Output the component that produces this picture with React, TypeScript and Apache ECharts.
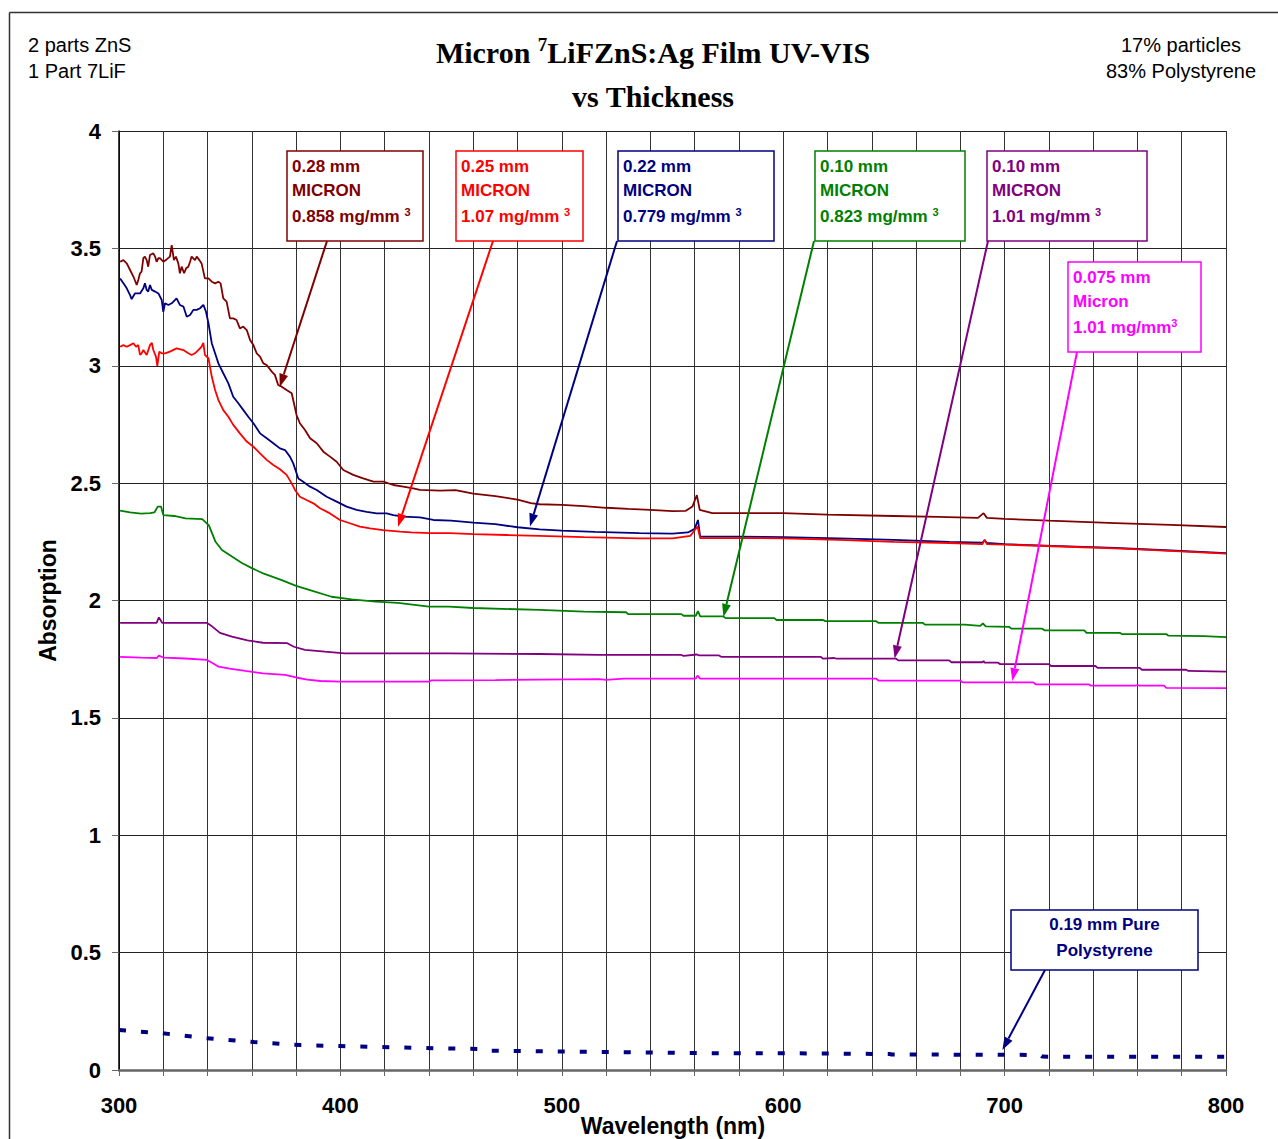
import React, { useEffect, useRef } from 'react';
import * as echarts from 'echarts';

// ---------- data (wavelength nm, absorption) ----------
const s028: [number, number][] = [
  [300.5,3.443],[302,3.45],[303.5,3.436],[305,3.408],[306.5,3.38],[308,3.344],[308.7,3.365],[309.5,3.394],[310.2,3.401],[311,3.458],[311.7,3.465],[312.5,3.45],[313.2,3.422],[314,3.472],[315.5,3.479],[316.3,3.465],[317,3.443],[317.8,3.458],[318.5,3.458],[320,3.443],[321.5,3.453],[323,3.465],[323.8,3.514],[324.8,3.45],[325.7,3.465],[326.8,3.436],[327.5,3.394],[328.3,3.422],[329.4,3.394],[330.3,3.415],[331.3,3.422],[332.1,3.443],[332.8,3.465],[334.3,3.45],[335.1,3.465],[336.3,3.45],[337.3,3.436],[338.8,3.372],[340.4,3.372],[341.9,3.358],[343.4,3.351],[344.9,3.358],[345.9,3.351],[347.1,3.287],[348.6,3.273],[350.1,3.202],[351.6,3.202],[353.1,3.195],[354.6,3.159],[356.1,3.167],[357.7,3.152],[359.2,3.11],[360.7,3.088],[362.2,3.053],[363.7,3.039],[365.2,3.01],[366.7,3.003],[369,2.975],[370.4,2.961],[371.9,2.918],[373.5,2.911],[375.7,2.897],[378,2.883],[380.2,2.79],[381.7,2.755],[384,2.726],[386.3,2.691],[389.3,2.67],[392.3,2.634],[395.3,2.613],[398.3,2.591],[401.3,2.556],[405.8,2.535],[410.3,2.52],[414.9,2.506],[419.4,2.506],[423.9,2.492],[428.4,2.485],[432.9,2.478],[435.9,2.471],
  [445,2.468],[452,2.47],[460,2.455],[470,2.445],[480,2.43],[486,2.415],[490,2.41],[500,2.407],[510,2.402],[520,2.395],[530,2.39],[540,2.386],[550,2.381],[556,2.382],[559,2.4],[561,2.449],[562.3,2.386],[568,2.372],[580,2.372],[600,2.372],[620,2.366],[650,2.36],[670,2.356],[688,2.352],[690.5,2.372],[692,2.352],[700,2.348],[720,2.34],[750,2.33],[775,2.322],[800,2.313]
];
const s025: [number, number][] = [
  [300.5,3.081],[302,3.088],[303.5,3.081],[305,3.088],[306.5,3.096],[307.7,3.081],[308.7,3.088],[309.5,3.046],[310.2,3.053],[311,3.067],[312.5,3.046],[314,3.088],[314.8,3.098],[315.5,3.067],[316.7,3.039],[317.3,2.999],[318.2,3.06],[319.3,3.053],[320.8,3.053],[323,3.06],[326,3.074],[329.1,3.067],[331.3,3.053],[332.8,3.046],[334.3,3.053],[335.8,3.067],[337.3,3.081],[338.1,3.098],[338.8,3.046],[340.4,3.032],[341.9,2.954],[343.4,2.897],[344.9,2.854],[347.1,2.811],[349.4,2.783],[351.6,2.748],[354.6,2.712],[357.7,2.677],[360.7,2.655],[363.7,2.627],[366.7,2.599],[369.7,2.577],[372.7,2.559],[375.7,2.535],[378,2.499],[379.5,2.471],[381.7,2.442],[384.7,2.428],[387.8,2.414],[390.8,2.393],[395.3,2.371],[399.8,2.343],[404.3,2.329],[408.8,2.315],[413.4,2.307],[419.2,2.3],[426.9,2.293],[432,2.29],[440.4,2.287],[449.5,2.287],[460,2.283],[475,2.279],[490,2.275],[510,2.27],[535,2.265],[550,2.265],[558,2.275],[561.3,2.315],[562.5,2.266],[580,2.266],[600,2.265],[625,2.258],[650,2.25],[675,2.245],[690,2.24],[691,2.258],[692,2.24],[700,2.238],[725,2.23],[750,2.222],[775,2.211],[800,2.2]
];
const s022: [number, number][] = [
  [300.5,3.372],[302,3.351],[303.5,3.33],[305,3.301],[305.7,3.284],[307.2,3.308],[309.5,3.308],[311,3.33],[311.7,3.351],[312.5,3.323],[313.2,3.316],[314,3.344],[314.8,3.323],[316.3,3.316],[317.8,3.308],[319.3,3.28],[320,3.23],[320.8,3.266],[322.3,3.259],[323.8,3.266],[326,3.287],[327.5,3.259],[329.1,3.252],[330.6,3.209],[332.1,3.216],[333.6,3.238],[335.1,3.238],[336.6,3.245],[338.1,3.259],[339.3,3.23],[340.4,3.181],[341.9,3.096],[343.4,3.053],[344.9,3.01],[347.1,2.968],[349.4,2.925],[351.6,2.868],[353.9,2.84],[356.1,2.812],[358.4,2.783],[360.7,2.755],[363.7,2.712],[366.7,2.691],[369.7,2.67],[372.7,2.648],[375,2.641],[377.2,2.613],[378.7,2.584],[381,2.52],[383.2,2.506],[386.3,2.485],[389.3,2.471],[393.8,2.442],[398.3,2.421],[402.8,2.4],[407.3,2.386],[411.9,2.378],[416.4,2.371],[420.9,2.371],[423.9,2.364],[428.4,2.357],[435.9,2.354],[442,2.343],[450,2.34],[460,2.332],[470,2.325],[480,2.312],[490,2.303],[500,2.298],[515,2.292],[535,2.287],[550,2.285],[557,2.29],[560,2.305],[561.5,2.343],[562.5,2.272],[580,2.272],[600,2.27],[625,2.265],[650,2.258],[675,2.25],[690,2.246],[691,2.258],[692,2.245],[700,2.24],[725,2.232],[750,2.224],[775,2.213],[800,2.202]
];
const s010a: [number, number][] = [
  [300.5,2.383],[305,2.375],[310,2.37],[314,2.372],[316,2.375],[317.5,2.4],[319,2.4],[320,2.364],[325,2.36],[330,2.35],[337.6,2.347],[340.6,2.32],[343.6,2.25],[346.5,2.215],[351,2.187],[355.5,2.16],[360,2.138],[364.5,2.118],[373.5,2.087],[380,2.062],[387,2.042],[396,2.016],[405,2.005],[416,1.995],[426,1.99],[440,1.974],[449,1.974],[460,1.968],[490,1.96],[510,1.953],[529,1.95],[530,1.942],[554,1.942],[555,1.935],[560.5,1.935],[561.5,1.955],[562.5,1.932],[573,1.932],[574,1.925],[596,1.925],[597,1.917],[618,1.917],[619,1.912],[642,1.912],[643,1.905],[663,1.905],[664,1.897],[682,1.897],[689,1.892],[690.2,1.902],[691.5,1.89],[702,1.888],[703,1.88],[717,1.88],[718,1.873],[736,1.873],[737,1.862],[752,1.862],[753,1.857],[773,1.857],[774,1.85],[790,1.848],[800,1.844]
];
const s010b: [number, number][] = [
  [300.5,1.905],[317,1.905],[318,1.928],[319.5,1.905],[339.6,1.905],[342,1.89],[345.6,1.862],[351,1.846],[358,1.83],[365,1.82],[376,1.818],[379,1.803],[384,1.79],[393,1.782],[402,1.775],[449,1.775],[490,1.772],[517,1.768],[540,1.768],[554,1.768],[555,1.764],[561,1.77],[562,1.766],[571,1.766],[572,1.76],[617,1.76],[618,1.752],[623,1.755],[624,1.752],[651,1.752],[652,1.745],[675,1.745],[676,1.737],[690,1.737],[690.5,1.742],[691,1.735],[697,1.735],[698,1.729],[720,1.729],[721,1.721],[741,1.721],[742,1.713],[761,1.713],[762,1.705],[782,1.705],[783,1.7],[800,1.697]
];
const s0075: [number, number][] = [
  [300.5,1.76],[310,1.757],[317,1.755],[318,1.765],[320,1.757],[330,1.753],[339.6,1.747],[342,1.735],[345,1.718],[350,1.71],[357,1.7],[365,1.69],[375,1.683],[380,1.672],[385,1.663],[391,1.657],[400,1.654],[440,1.654],[441,1.66],[470,1.661],[517,1.665],[520,1.662],[528,1.667],[560.5,1.667],[561.3,1.68],[562.5,1.667],[642,1.667],[643,1.659],[680,1.659],[681,1.651],[713,1.651],[714,1.643],[738,1.643],[739,1.637],[759,1.637],[760,1.64],[761,1.637],[772,1.637],[773,1.628],[800,1.627]
];
const sPS: [number, number][] = [
  [300,0.17],[318,0.158],[339,0.136],[361,0.119],[382,0.106],[400,0.102],[436,0.094],[466,0.089],[467,0.082],[517,0.077],[562,0.072],[607,0.071],[648,0.068],[649,0.066],[698,0.065],[716,0.064],[717,0.057],[800,0.056]
];

const xMin = 300, xMax = 800, xStep = 20;
const yMin = 0, yMax = 4, yStep = 0.5;
const xName = 'Wavelength (nm)';
const yName = 'Absorption';

// annotation boxes: text lines, superscript, colour, box (px), arrow start (px), arrow tip (data)
const notes = [
  { lines: ['0.28 mm', 'MICRON', '0.858 mg/mm '], sup: '3', color: '#800000', box: [287, 151, 136, 90], from: [327, 241], tip: [372.6, 2.91] },
  { lines: ['0.25 mm', 'MICRON', '1.07 mg/mm '], sup: '3', color: '#FF0000', box: [456, 151, 127, 90], from: [493, 241], tip: [426, 2.314] },
  { lines: ['0.22 mm', 'MICRON', '0.779 mg/mm '], sup: '3', color: '#000080', box: [618, 151, 156, 90], from: [617, 241], tip: [485.6, 2.315] },
  { lines: ['0.10 mm', 'MICRON', '0.823 mg/mm '], sup: '3', color: '#008000', box: [815, 151, 150, 90], from: [814, 241], tip: [573, 1.93] },
  { lines: ['0.10 mm', 'MICRON', '1.01 mg/mm '], sup: '3', color: '#800080', box: [987, 151, 160, 90], from: [988, 241], tip: [650.3, 1.753] },
  { lines: ['0.075 mm', 'Micron', '1.01 mg/mm'], sup: '3', color: '#FF00FF', box: [1068, 262, 133, 90], from: [1077, 352], tip: [703.5, 1.657] },
];
const psNote = { lines: ['0.19 mm Pure', 'Polystyrene'], color: '#000080', box: [1011, 910, 187, 60], from: [1045, 970], tip: [699, 0.085] };

const SANS = 'Liberation Sans, Arial, sans-serif';
const SERIF = 'Liberation Serif, Times New Roman, serif';

function arrow(from: number[], tip: number[], color: string) {
  const dx = tip[0] - from[0], dy = tip[1] - from[1];
  const len = Math.hypot(dx, dy);
  const ux = dx / len, uy = dy / len;
  const hl = 13, hw = 4.5;
  const bx = tip[0] - ux * hl, by = tip[1] - uy * hl;
  return [
    { type: 'line', z: 100, shape: { x1: from[0], y1: from[1], x2: bx, y2: by }, style: { stroke: color, lineWidth: 2 } },
    { type: 'polygon', z: 100, shape: { points: [[tip[0], tip[1]], [bx - uy * hw, by + ux * hw], [bx + uy * hw, by - ux * hw]] }, style: { fill: color } },
  ];
}

export default function App() {
  const ref = useRef<HTMLDivElement>(null);
  useEffect(() => {
    document.body.style.margin = '0';
    const chart = echarts.init(ref.current!, null, { renderer: 'svg' });
    const mk = (name: string, data: [number, number][], color: string, extra: any = {}) => ({
      type: 'line', name, data, symbol: 'none', showSymbol: false, smooth: false,
      lineStyle: { color, width: 1.8, ...(extra.lineStyle || {}) }, itemStyle: { color }, z: 3,
    });
    const axisFont = { fontSize: 22, fontWeight: 'bold', color: '#000', fontFamily: SANS };
    chart.setOption({
      animation: false,
      backgroundColor: '#fff',
      grid: { left: 119, right: 52, top: 131, bottom: 69, containLabel: false, outerBoundsMode: 'none' },
      xAxis: {
        type: 'value', min: xMin, max: xMax, interval: xStep,
        axisLine: { show: true, lineStyle: { color: '#666', width: 2.5 } },
        axisTick: { show: true, length: 6, lineStyle: { color: '#666' } },
        axisLabel: { ...axisFont, margin: 24, formatter: (v: number) => (v % 100 === 0 ? String(v) : '') },
        splitLine: { show: true, lineStyle: { color: '#333', width: 1 } },
      },
      yAxis: {
        type: 'value', min: yMin, max: yMax, interval: yStep,
        axisLine: { show: true, lineStyle: { color: '#000', width: 1.5 } },
        axisTick: { show: true, length: 7, lineStyle: { color: '#666' } },
        axisLabel: { ...axisFont, margin: 18 },
        splitLine: { show: true, lineStyle: { color: '#222', width: 1 } },
        name: yName, nameLocation: 'middle', nameGap: 60,
        nameTextStyle: { fontSize: 23, fontWeight: 'bold', color: '#000', fontFamily: SANS },
      },
      series: [
        mk('0.19 mm Pure Polystyrene', sPS, '#000080', { lineStyle: { width: 4, type: [7, 15] } }),
        mk('0.075 mm Micron', s0075, '#FF00FF'),
        mk('0.10 mm MICRON 1.01', s010b, '#800080'),
        mk('0.10 mm MICRON 0.823', s010a, '#008000'),
        mk('0.28 mm MICRON', s028, '#800000'),
        mk('0.22 mm MICRON', s022, '#000080'),
        mk('0.25 mm MICRON', s025, '#FF0000'),
      ],
    });

    const g: any[] = [];
    // frame
    g.push({ type: 'line', z: 100, shape: { x1: 9.5, y1: 12.5, x2: 1278, y2: 12.5 }, style: { stroke: '#333', lineWidth: 1.5 } });
    g.push({ type: 'line', z: 100, shape: { x1: 9.5, y1: 12.5, x2: 9.5, y2: 1139 }, style: { stroke: '#333', lineWidth: 1.5 } });
    // x axis title
    g.push({ type: 'text', z: 100, x: 673, y: 1126, style: { text: xName, textAlign: 'center', textVerticalAlign: 'middle', fontSize: 23, fontWeight: 'bold', fontFamily: SANS, fill: '#000' } });
    // title
    g.push({
      type: 'text', z: 100, x: 653, y: 52,
      style: {
        text: '{a|Micron }{s|7}{a|LiFZnS:Ag Film UV-VIS}', textAlign: 'center', textVerticalAlign: 'middle',
        rich: {
          a: { fontSize: 30, fontWeight: 'bold', fontFamily: SERIF, fill: '#000', lineHeight: 34 },
          s: { fontSize: 19, fontWeight: 'bold', fontFamily: SERIF, fill: '#000', lineHeight: 14, verticalAlign: 'top' },
        },
      },
    });
    g.push({ type: 'text', z: 100, x: 653, y: 96, style: { text: 'vs Thickness', textAlign: 'center', textVerticalAlign: 'middle', fontSize: 30, fontWeight: 'bold', fontFamily: SERIF, fill: '#000' } });
    // corner notes
    const cornerStyle = { fontSize: 20, fontFamily: SANS, fill: '#000', textVerticalAlign: 'middle' };
    g.push({ type: 'text', z: 100, x: 28, y: 45, style: { ...cornerStyle, text: '2 parts ZnS', textAlign: 'left' } });
    g.push({ type: 'text', z: 100, x: 28, y: 71, style: { ...cornerStyle, text: '1 Part 7LiF', textAlign: 'left' } });
    g.push({ type: 'text', z: 100, x: 1181, y: 45, style: { ...cornerStyle, text: '17% particles', textAlign: 'center' } });
    g.push({ type: 'text', z: 100, x: 1181, y: 71, style: { ...cornerStyle, text: '83% Polystyrene', textAlign: 'center' } });

    const toPx = (p: number[]) => chart.convertToPixel({ seriesIndex: 0 }, p) as number[];
    notes.forEach((n) => {
      const [bx, by, bw, bh] = n.box;
      g.push(...arrow(n.from, toPx(n.tip), n.color));
      g.push({ type: 'rect', z: 101, shape: { x: bx, y: by, width: bw, height: bh }, style: { fill: '#fff', stroke: n.color, lineWidth: 1.5 } });
      const offs = [15, 39, 65];
      n.lines.forEach((t, i) => {
        const last = i === n.lines.length - 1;
        g.push({
          type: 'text', z: 102, x: bx + 5, y: by + offs[i],
          style: {
            text: last ? `{t|${t}}{s|${n.sup}}` : `{t|${t}}`, textAlign: 'left', textVerticalAlign: 'middle',
            rich: {
              t: { fontSize: 17, fontWeight: 'bold', fontFamily: SANS, fill: n.color, lineHeight: 20 },
              s: { fontSize: 11, fontWeight: 'bold', fontFamily: SANS, fill: n.color, lineHeight: 12, verticalAlign: 'top' },
            },
          },
        });
      });
    });
    {
      const n = psNote;
      const [bx, by, bw, bh] = n.box;
      g.push(...arrow(n.from, toPx(n.tip), n.color));
      g.push({ type: 'rect', z: 101, shape: { x: bx, y: by, width: bw, height: bh }, style: { fill: '#fff', stroke: n.color, lineWidth: 1.5 } });
      const offs = [14, 40];
      n.lines.forEach((t, i) => {
        g.push({ type: 'text', z: 102, x: bx + bw / 2, y: by + offs[i], style: { text: t, textAlign: 'center', textVerticalAlign: 'middle', fontSize: 17, fontWeight: 'bold', fontFamily: SANS, fill: n.color } });
      });
    }
    chart.setOption({ graphic: g });
    return () => chart.dispose();
  }, []);
  return <div ref={ref} style={{ width: 1278, height: 1139 }} />;
}
